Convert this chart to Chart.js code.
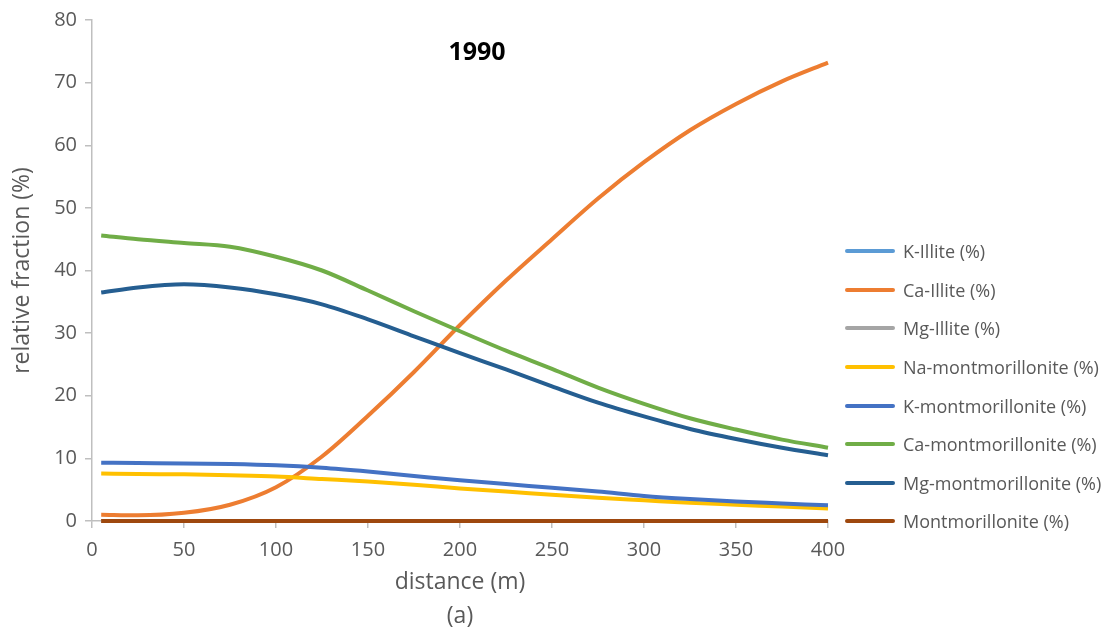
<!DOCTYPE html>
<html>
<head>
<meta charset="utf-8">
<script src="https://cdn.jsdelivr.net/npm/chart.js@4.4.0/dist/chart.umd.min.js"></script>
<style>
  html, body { margin: 0; padding: 0; background: #fff; }
  #wrap { position: relative; width: 1118px; height: 634px; }
  #chart1 { position: absolute; left: 0; top: 0; }
  #title { position: absolute; left: 377px; width: 200px; top: 34px; text-align: center;
           font: bold 25px "Open Sans", sans-serif; color: #000; line-height: 32px; }
  #legend { position: absolute; left: 845px; top: 232px; font-family: "Open Sans", sans-serif; }
  .item { display: flex; align-items: center; height: 38.6px; font-size: 18px; color: #595959; }
  .swatch { width: 50px; height: 4px; margin-right: 8px; border-radius: 2px; }
</style>
</head>
<body>
<div id="wrap">
  <canvas id="chart1" width="1118" height="634"></canvas>
  <div id="title">1990</div>
  <div id="legend"></div>
</div>
<script>
// distance (m)
const distances = [5, 25, 50, 75, 100, 125, 150, 175, 200, 225, 250, 275, 300, 325, 350, 375, 400];

const kIllite   = [0, 0, 0, 0, 0, 0, 0, 0, 0, 0, 0, 0, 0, 0, 0, 0, 0];
const caIllite  = [1.0, 0.9, 1.3, 2.6, 5.4, 10.3, 16.8, 23.8, 31.3, 38.4, 45.0, 51.5, 57.3, 62.4, 66.6, 70.2, 73.2];
const mgIllite  = [0, 0, 0, 0, 0, 0, 0, 0, 0, 0, 0, 0, 0, 0, 0, 0, 0];
const naMont    = [7.6, 7.5, 7.45, 7.3, 7.1, 6.7, 6.3, 5.8, 5.2, 4.7, 4.2, 3.7, 3.3, 2.9, 2.6, 2.3, 2.0];
const kMont     = [9.3, 9.25, 9.2, 9.1, 8.9, 8.5, 7.9, 7.2, 6.5, 5.9, 5.3, 4.7, 4.0, 3.5, 3.1, 2.8, 2.5];
const caMont    = [45.6, 45.0, 44.4, 43.8, 42.2, 40.0, 36.8, 33.5, 30.3, 27.2, 24.3, 21.3, 18.7, 16.4, 14.6, 13.0, 11.7];
const mgMont    = [36.5, 37.3, 37.8, 37.3, 36.2, 34.6, 32.2, 29.5, 26.8, 24.2, 21.5, 18.9, 16.7, 14.7, 13.1, 11.7, 10.5];
const mont      = [0, 0, 0, 0, 0, 0, 0, 0, 0, 0, 0, 0, 0, 0, 0, 0, 0];

const seriesNames = ["K-Illite (%)", "Ca-Illite (%)", "Mg-Illite (%)", "Na-montmorillonite (%)",
                     "K-montmorillonite (%)", "Ca-montmorillonite (%)", "Mg-montmorillonite (%)", "Montmorillonite (%)"];
const seriesValues = [kIllite, caIllite, mgIllite, naMont, kMont, caMont, mgMont, mont];
const colors = ['#5B9BD5', '#ED7D31', '#A5A5A5', '#FFC000', '#4472C4', '#70AD47', '#255E91', '#9E480E'];

const yTicks = [0, 10, 20, 30, 40, 50, 60, 70, 80];
const xTicks = [0, 50, 100, 150, 200, 250, 300, 350, 400];

const datasets = seriesNames.map((name, i) => ({
    label: name,
    data: distances.map((d, j) => ({ x: d, y: seriesValues[i][j] })),
    borderColor: colors[i],
    backgroundColor: colors[i],
    borderWidth: 4,
    pointRadius: 0,
    cubicInterpolationMode: 'monotone',
    clip: 4, // don't cut the zero lines in half
    order: seriesNames.length - i, // later series drawn on top, like the original
}));

// html legend
const legendEl = document.getElementById('legend');
seriesNames.forEach((name, i) => {
    const item = document.createElement('div');
    item.className = 'item';
    const sw = document.createElement('span');
    sw.className = 'swatch';
    sw.style.background = colors[i];
    const txt = document.createElement('span');
    txt.textContent = name;
    item.appendChild(sw);
    item.appendChild(txt);
    legendEl.appendChild(item);
});

const axisColor = '#BFBFBF';
const textColor = '#595959';

new Chart(document.getElementById('chart1').getContext('2d'), {
    type: 'line',
    data: { datasets: datasets },
    options: {
        responsive: false,
        animation: false,
        devicePixelRatio: 1,
        layout: { padding: { left: 0, top: 20, right: 290, bottom: 0 } },
        plugins: { legend: { display: false }, tooltip: { enabled: false } },
        scales: {
            x: {
                type: 'linear',
                min: 0, max: 400,
                afterBuildTicks: (scale) => { scale.ticks = xTicks.map(v => ({ value: v })); },
                afterFit: (scale) => { scale.height = 113; },
                grid: { drawOnChartArea: false, color: axisColor, tickLength: 7, lineWidth: 1.5 },
                border: { color: axisColor, width: 1.5 },
                ticks: { color: textColor, font: { family: 'Open Sans', size: 20 }, padding: 10, maxRotation: 0 },
                title: {
                    display: true,
                    text: ['distance (m)', '(a)'],
                    color: textColor,
                    font: { family: 'Open Sans', size: 23, lineHeight: 1.5 },
                    padding: { top: 0, bottom: 0 },
                },
            },
            y: {
                min: 0, max: 80,
                afterBuildTicks: (scale) => { scale.ticks = yTicks.map(v => ({ value: v })); },
                afterFit: (scale) => { scale.width = 92; },
                grid: { drawOnChartArea: false, color: axisColor, tickLength: 7, lineWidth: 1.5 },
                border: { color: axisColor, width: 1.5 },
                ticks: { color: textColor, font: { family: 'Open Sans', size: 20 }, padding: 8 },
                title: {
                    display: true,
                    text: 'relative fraction (%)',
                    color: textColor,
                    font: { family: 'Open Sans', size: 23 },
                    padding: { top: 9, bottom: 0 },
                },
            },
        },
    },
});
</script>
</body>
</html>
